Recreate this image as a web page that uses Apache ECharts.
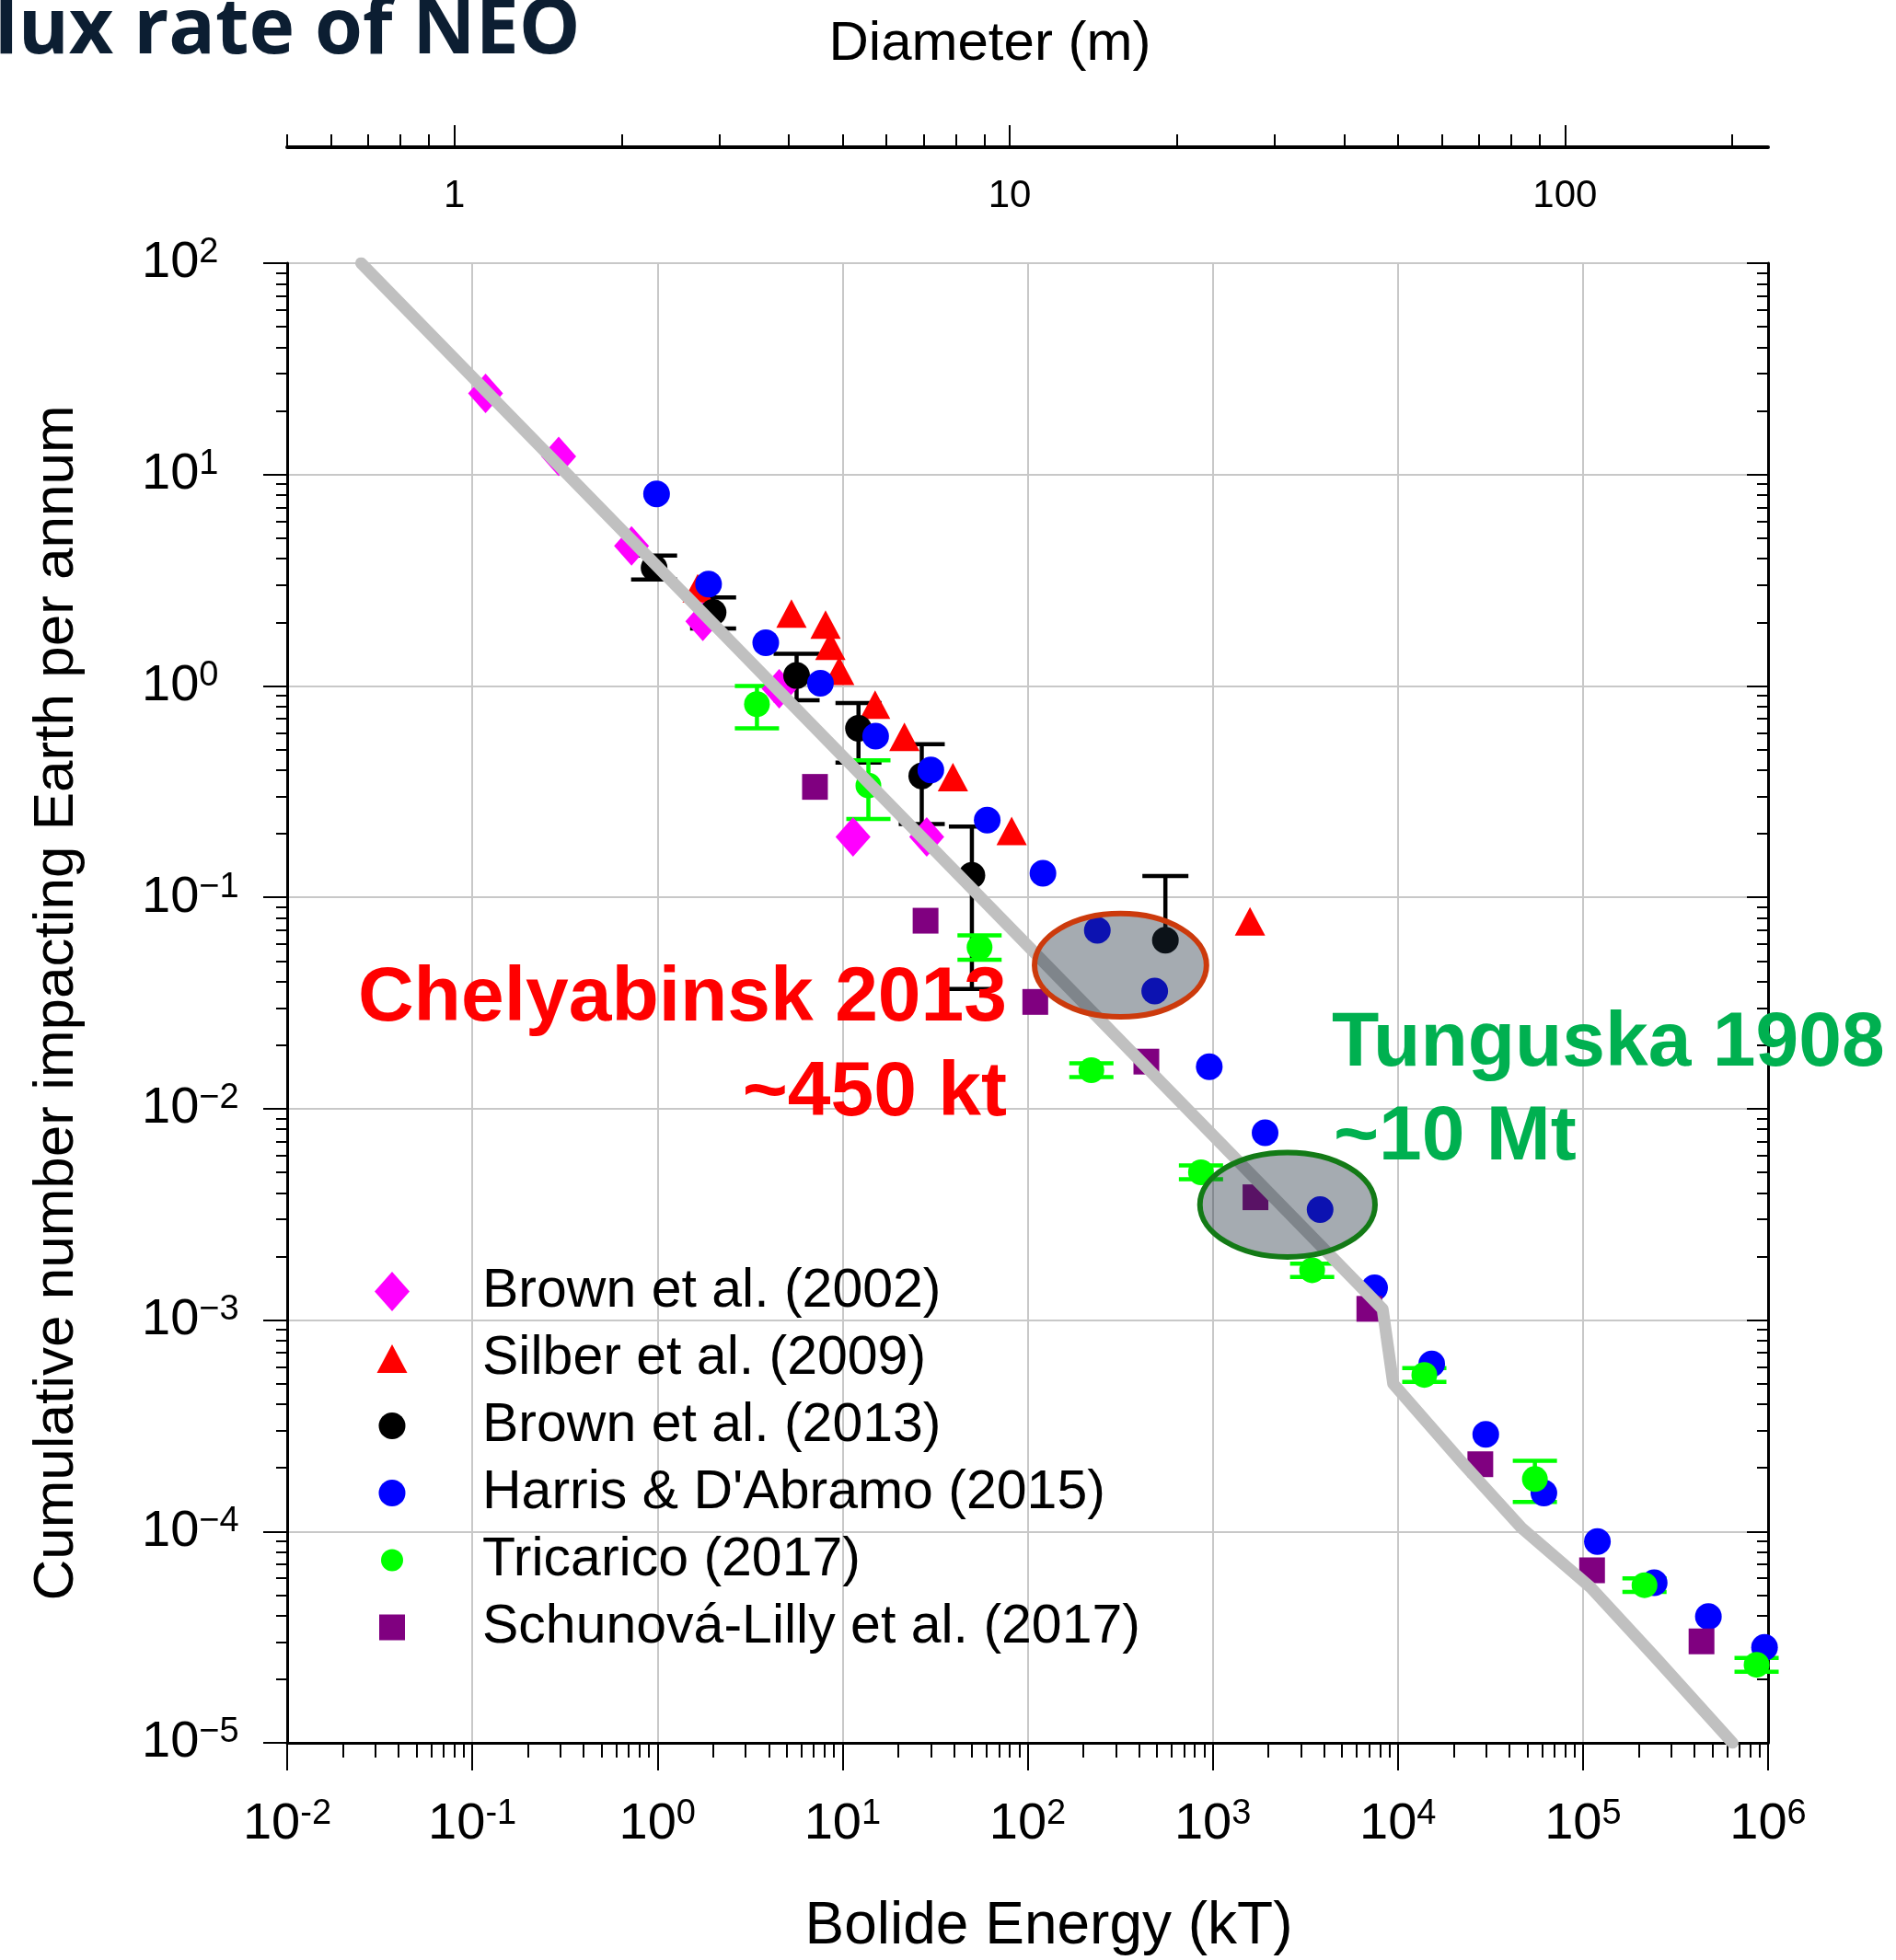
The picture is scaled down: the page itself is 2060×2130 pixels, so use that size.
<!DOCTYPE html>
<html lang="en" style="height: 100%">

<head>
    <meta charset="utf-8" />
    <script src="https://cdn.jsdelivr.net/npm/echarts@6.0.0/dist/echarts.min.js"></script>
</head>

<body style="height: 100%; margin: 0">
    <div id="container" style="width: 2060px;height: 2130px;"></div>
    <script type="text/javascript">
        // bolide energy (kT) vs cumulative impacts per year
        const brown2002 = [[0.118, 24.2], [0.293, 12.2], [0.725, 4.6], [1.76, 2.02], [4.55, 0.97], [11.4, 0.193], [28.5, 0.193]];
        const silber2009 = [[1.65, 2.9], [5.3, 2.2], [8.1, 1.95], [8.6, 1.55], [9.6, 1.18], [15, 0.815], [21.6, 0.575], [39.5, 0.37], [82, 0.206], [1590, 0.077]];
        // [energy, rate, lower, upper]
        const brown2013 = [[0.96, 3.62, 3.19, 4.14], [2.0, 2.23, 1.87, 2.62], [5.65, 1.12, 0.855, 1.42], [12.2, 0.63, 0.434, 0.83],
            [26.8, 0.375, 0.222, 0.53], [50, 0.127, 0.0368, 0.216], [555, 0.0627, 0.0627, 0.126]];
        const harris2015 = [[0.99, 8.1], [1.89, 3.03], [3.85, 1.6], [7.6, 1.03], [15.1, 0.578], [30, 0.40], [60.5, 0.232], [121, 0.13],
            [238, 0.0698], [486, 0.036], [958, 0.0158], [1918, 0.0077], [3802, 0.00333], [7487, 0.00142], [15240, 6.2e-4],
            [29850, 2.88e-4], [61500, 1.52e-4], [119700, 8.97e-5], [242500, 5.72e-5], [476000, 3.96e-5], [957000, 2.83e-5]];
        const tricarico2017 = [[3.45, 0.82, 0.63, 1.0], [13.8, 0.338, 0.235, 0.445], [55, 0.058, 0.0507, 0.066], [221, 0.0152, 0.0141, 0.0164],
            [864, 0.005, 0.00464, 0.00539], [3444, 0.00172, 0.0016, 0.00185], [13900, 5.5e-4, 5.1e-4, 5.93e-4],
            [55000, 1.77e-4, 1.38e-4, 2.16e-4], [215000, 5.57e-5, 5.17e-5, 6.0e-5], [867000, 2.34e-5, 2.17e-5, 2.52e-5]];
        const schunova2017 = [[7.1, 0.333], [28.1, 0.0775], [110, 0.032], [438, 0.0167], [1702, 0.00381], [7015, 0.00113],
            [27900, 2.08e-4], [112000, 6.55e-5], [437000, 3.02e-5]];
        const fitLine = [[0.0251, 100], [8279, 0.001127], [9441, 5.0e-4], [22440, 2.1e-4], [46560, 1.04e-4], [110400, 5.42e-5],
            [245500, 2.54e-5], [642700, 1e-5]];
        // highlighted events: [energy range], [rate range]
        const chelyabinskRing = [[109, 925], [0.0272, 0.0838]];
        const tunguskaRing = [[853, 7530], [0.00199, 0.00621]];

        const energyTicks = [0.01, 0.1, 1, 10, 100, 1e3, 1e4, 1e5, 1e6];
        const rateTicks = [1e-5, 1e-4, 1e-3, 1e-2, 0.1, 1, 10, 100];
        const diameterTicks = [1, 10, 100];
        const diameterRange = [0.5, 232.1];

        function minorTicks(decades, lo, hi) {
            let res = [];
            decades.forEach(function (d) {
                for (let k = 2; k <= 9; k++) {
                    const v = Number((k * d).toPrecision(6));
                    if (v >= lo && v <= hi) res.push(v);
                }
            });
            return res;
        }
        const energyMinor = minorTicks([0.01, 0.1, 1, 10, 100, 1e3, 1e4, 1e5], 0.01, 1e6);
        const rateMinor = minorTicks([1e-5, 1e-4, 1e-3, 1e-2, 0.1, 1, 10], 1e-5, 100);
        const diameterMinor = minorTicks([0.1, 1, 10, 100], diameterRange[0], diameterRange[1]);

        const fam = "'Liberation Sans', Arial, sans-serif";
        const tickStyle = { color: '#000', width: 2 };

        function powerLabel(minus) {
            return function (v) {
                const e = Math.round(Math.log10(v));
                return '{b|10}{s|' + (e < 0 ? minus + (-e) : e) + '}';
            };
        }
        const powerRich = {
            b: { fontFamily: fam, fontSize: 56, lineHeight: 60, color: '#000' },
            s: { fontFamily: fam, fontSize: 38, lineHeight: 38, color: '#000', verticalAlign: 'top' }
        };

        function errorBars(color, capHalf, width) {
            return function (params, api) {
                const e = api.value(0);
                const hi = api.coord([e, api.value(3)]);
                const lo = api.coord([e, api.value(2)]);
                const st = { stroke: color, lineWidth: width };
                const kids = [
                    { type: 'line', shape: { x1: hi[0], y1: hi[1], x2: lo[0], y2: lo[1] }, style: st },
                    { type: 'line', shape: { x1: hi[0] - capHalf, y1: hi[1], x2: hi[0] + capHalf, y2: hi[1] }, style: st }
                ];
                if (api.value(2) < api.value(1)) {
                    kids.push({ type: 'line', shape: { x1: lo[0] - capHalf, y1: lo[1], x2: lo[0] + capHalf, y2: lo[1] }, style: st });
                }
                return { type: 'group', children: kids };
            };
        }

        const ringColors = ['#cc3a0c', '#137a16'];

        var dom = document.getElementById('container');
        var myChart = echarts.init(dom, null, { renderer: 'canvas' });

        function tickAxis(base, extra) {
            return Object.assign({
                axisLine: { show: false, onZero: false },
                axisLabel: { show: false },
                splitLine: { show: false },
                gridIndex: 0
            }, base, extra);
        }

        var option = {
            backgroundColor: '#ffffff',
            animation: false,
            grid: { left: 312, top: 286, width: 1609, height: 1608, outerBoundsMode: 'none' },
            legend: {
                orient: 'vertical',
                left: 401,
                top: 1369,
                itemWidth: 186,
                itemHeight: 44,
                itemGap: 14,
                selectedMode: false,
                textStyle: { fontFamily: fam, fontSize: 59, lineHeight: 56, color: '#000' },
                data: [
                    { name: 'Brown et al. (2002)', icon: 'path://M0,0M40,44M20,0.5L39,22L20,43.5L1,22Z' },
                    { name: 'Silber et al. (2009)', icon: 'path://M0,0M40,44M20,6.5L36.5,37.5L3.5,37.5Z' },
                    { name: 'Brown et al. (2013)', icon: 'path://M0,0M40,44M5.5,22A14.5,14.5,0,1,0,34.5,22A14.5,14.5,0,1,0,5.5,22Z' },
                    { name: "Harris & D'Abramo (2015)", icon: 'path://M0,0M40,44M5.5,22A14.5,14.5,0,1,0,34.5,22A14.5,14.5,0,1,0,5.5,22Z' },
                    { name: 'Tricarico (2017)', icon: 'path://M0,0M40,44M8,22A12,12,0,1,0,32,22A12,12,0,1,0,8,22Z' },
                    { name: 'Schunová-Lilly et al. (2017)', icon: 'path://M0,0M40,44M6,8L34,8L34,36L6,36Z' }
                ]
            },
            xAxis: [
                {
                    type: 'log', gridIndex: 0, position: 'bottom', min: 0.01, max: 1e6,
                    name: 'Bolide Energy (kT)', nameLocation: 'middle', nameGap: 168,
                    nameTextStyle: { fontFamily: fam, fontSize: 64, color: '#000', padding: [0, 0, 0, 46] },
                    axisLine: { show: true, onZero: false, lineStyle: { color: '#000', width: 3 } },
                    axisTick: { show: true, length: 30, lineStyle: tickStyle, customValues: energyTicks },
                    axisLabel: { customValues: energyTicks, formatter: powerLabel('-'), margin: 59, rich: powerRich },
                    splitLine: { show: true, lineStyle: { color: '#c8c8c8', width: 2 } }
                },
                tickAxis({ type: 'log', position: 'bottom', min: 0.01, max: 1e6 },
                    { axisTick: { show: true, length: 16, lineStyle: tickStyle, customValues: energyMinor } }),
                {
                    type: 'log', gridIndex: 0, position: 'top', offset: 126, min: diameterRange[0], max: diameterRange[1],
                    name: 'Diameter (m)', nameLocation: 'middle', nameGap: 82,
                    nameTextStyle: { fontFamily: fam, fontSize: 60, color: '#000', padding: [0, 82, 0, 0] },
                    axisLine: { show: true, onZero: false, lineStyle: { color: '#000', width: 4 } },
                    axisTick: { show: true, length: 24, lineStyle: tickStyle, customValues: diameterTicks },
                    axisLabel: {
                        inside: true, margin: 32, customValues: diameterTicks,
                        fontFamily: fam, fontSize: 42, color: '#000',
                        formatter: function (v) { return String(Math.round(v)); }
                    },
                    splitLine: { show: false }
                },
                tickAxis({ type: 'log', position: 'top', offset: 126, min: diameterRange[0], max: diameterRange[1] },
                    { axisTick: { show: true, length: 14, lineStyle: tickStyle, customValues: diameterMinor } })
            ],
            yAxis: [
                {
                    type: 'log', gridIndex: 0, position: 'left', min: 1e-5, max: 100,
                    name: 'Cumulative number impacting Earth per annum', nameLocation: 'middle', nameGap: 219,
                    nameTextStyle: { fontFamily: fam, fontSize: 62, color: '#000' },
                    axisLine: { show: true, onZero: false, lineStyle: { color: '#000', width: 3 } },
                    axisTick: { show: true, length: 26, lineStyle: tickStyle, customValues: rateTicks },
                    axisLabel: { customValues: rateTicks, formatter: powerLabel('\u2212'), align: 'left', margin: 158, rich: powerRich },
                    splitLine: { show: true, lineStyle: { color: '#c8c8c8', width: 2 } }
                },
                tickAxis({ type: 'log', position: 'left', min: 1e-5, max: 100 },
                    { axisTick: { show: true, length: 12, lineStyle: tickStyle, customValues: rateMinor } }),
                tickAxis({ type: 'log', position: 'right', min: 1e-5, max: 100 }, {
                    axisLine: { show: true, onZero: false, lineStyle: { color: '#000', width: 3 } },
                    axisTick: { show: true, inside: true, length: 23, lineStyle: tickStyle, customValues: rateTicks }
                }),
                tickAxis({ type: 'log', position: 'right', min: 1e-5, max: 100 },
                    { axisTick: { show: true, inside: true, length: 12, lineStyle: tickStyle, customValues: rateMinor } })
            ],
            series: [
                {
                    name: 'fit', type: 'line', data: fitLine, symbol: 'none', silent: true,
                    lineStyle: { color: '#c0c0c0', width: 13, cap: 'round', join: 'round' }
                },
                {
                    name: 'Brown et al. (2002)', type: 'scatter', data: brown2002,
                    symbol: 'diamond', symbolSize: [38, 43], itemStyle: { color: '#ff00ff', opacity: 1 }
                },
                {
                    name: 'Silber et al. (2009)', type: 'scatter', data: silber2009,
                    symbol: 'triangle', symbolSize: [33, 31], itemStyle: { color: '#ff0000', opacity: 1 }
                },
                {
                    name: 'Brown 2013 range', type: 'custom', data: brown2013,
                    encode: { x: 0, y: [1, 2, 3] }, renderItem: errorBars('#000000', 25, 4.5)
                },
                {
                    name: 'Brown et al. (2013)', type: 'scatter', data: brown2013.map(function (d) { return [d[0], d[1]]; }),
                    symbol: 'circle', symbolSize: 29, itemStyle: { color: '#000000', opacity: 1 }
                },
                {
                    name: "Harris & D'Abramo (2015)", type: 'scatter', data: harris2015,
                    symbol: 'circle', symbolSize: 29, itemStyle: { color: '#0000ff', opacity: 1 }
                },
                {
                    name: 'Tricarico range', type: 'custom', data: tricarico2017,
                    encode: { x: 0, y: [1, 2, 3] }, renderItem: errorBars('#00ff00', 24, 4.5)
                },
                {
                    name: 'Tricarico (2017)', type: 'scatter', data: tricarico2017.map(function (d) { return [d[0], d[1]]; }),
                    symbol: 'circle', symbolSize: 28, itemStyle: { color: '#00ff00', opacity: 1 }
                },
                {
                    name: 'Schunová-Lilly et al. (2017)', type: 'scatter', data: schunova2017,
                    symbol: 'rect', symbolSize: 28, itemStyle: { color: '#800080', opacity: 1 }
                },
                {
                    name: 'events', type: 'custom', z: 5, silent: true,
                    data: [chelyabinskRing, tunguskaRing].map(function (r) { return [r[0][0], r[0][1], r[1][0], r[1][1]]; }),
                    encode: { x: [0, 1], y: [2, 3] },
                    renderItem: function (params, api) {
                        const p0 = api.coord([api.value(0), api.value(3)]);
                        const p1 = api.coord([api.value(1), api.value(2)]);
                        return {
                            type: 'ellipse',
                            shape: {
                                cx: (p0[0] + p1[0]) / 2, cy: (p0[1] + p1[1]) / 2,
                                rx: Math.abs(p1[0] - p0[0]) / 2, ry: Math.abs(p1[1] - p0[1]) / 2
                            },
                            style: { fill: 'rgba(30, 45, 60, 0.4)', stroke: ringColors[params.dataIndex], lineWidth: 6 }
                        };
                    }
                }
            ],
            graphic: [
                {
                    type: 'text', x: -6, y: 34, z: 10,
                    style: { text: 'lux rate of NEO', fontFamily: "'Open Sans', sans-serif", fontWeight: 'bold', fontSize: 84, fill: '#0c1e32', verticalAlign: 'middle' }
                },
                {
                    type: 'text', x: 1094, y: 1086, z: 10,
                    style: { text: 'Chelyabinsk 2013', fontFamily: fam, fontWeight: 'bold', fontSize: 84, fill: '#ff0000', align: 'right', verticalAlign: 'middle' }
                },
                {
                    type: 'text', x: 1094, y: 1189, z: 10,
                    style: { text: '~450 kt', fontFamily: fam, fontWeight: 'bold', fontSize: 84, fill: '#ff0000', align: 'right', verticalAlign: 'middle' }
                },
                {
                    type: 'text', x: 1447, y: 1135, z: 10,
                    style: { text: 'Tunguska 1908', fontFamily: fam, fontWeight: 'bold', fontSize: 84, fill: '#00b050', align: 'left', verticalAlign: 'middle' }
                },
                {
                    type: 'text', x: 1449, y: 1237, z: 10,
                    style: { text: '~10 Mt', fontFamily: fam, fontWeight: 'bold', fontSize: 84, fill: '#00b050', align: 'left', verticalAlign: 'middle' }
                }
            ]
        };

        if (option && typeof option === 'object') {
            myChart.setOption(option);
        }

        window.addEventListener('resize', myChart.resize);
    </script>
</body>

</html>
